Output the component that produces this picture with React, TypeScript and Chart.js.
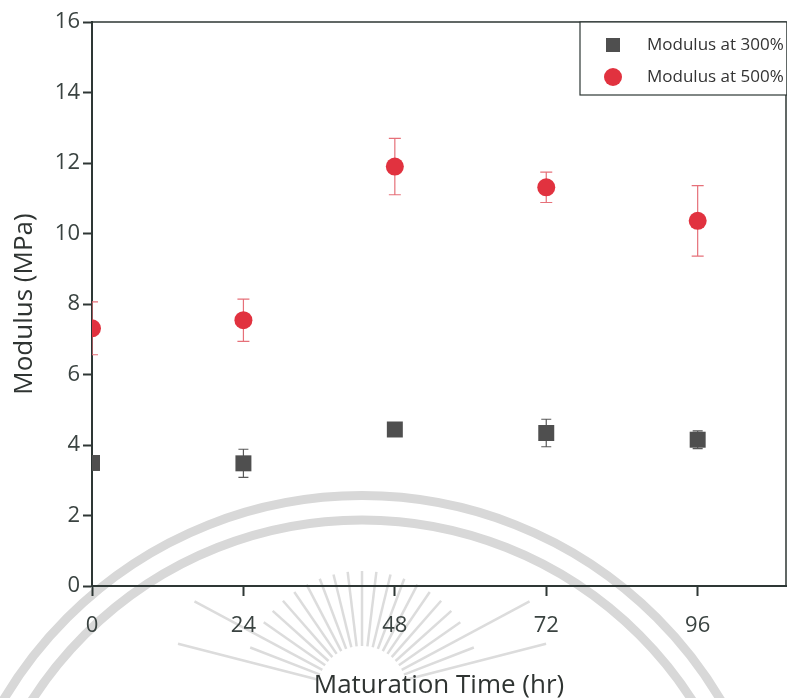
import React, { useEffect, useRef } from "react";
import { Chart, registerables } from "chart.js";

Chart.register(...registerables);

// ---- data ----
const hours = [0, 24, 48, 72, 96];
const xTicks = [0, 24, 48, 72, 96];
const yTicks = [0, 2, 4, 6, 8, 10, 12, 14, 16];
const modulus300 = [3.49, 3.48, 4.44, 4.34, 4.15];
const err300 = [0.1, 0.4, 0.1, 0.39, 0.25];
const modulus500 = [7.31, 7.54, 11.9, 11.31, 10.36];
const err500 = [0.75, 0.6, 0.8, 0.43, 1.0];
const seriesLabels = ["Modulus at 300%", "Modulus at 500%"];
const xTitle = "Maturation Time (hr)";
const yTitle = "Modulus (MPa)";

const FONT = "'Open Sans', 'DejaVu Sans', sans-serif";
const axisColor = "#2e3735";
const tickColor = "#3a4341";
const greyFill = "#4f4f4f";
const redFill = "#e1323f";
const redErr = "#e67079";
const greyErr = "#5a5a5a";

const watermarkPlugin = {
  id: "watermark",
  beforeDraw(chart: any) {
    const { ctx, width, height } = chart;
    ctx.save();
    ctx.fillStyle = "#ffffff";
    ctx.fillRect(0, 0, width, height);
    const cx = width * 0.46;
    const cy = height * 1.307;
    ctx.strokeStyle = "#d8d8d8";
    ctx.lineWidth = 9;
    ctx.beginPath();
    ctx.arc(cx, cy, height * 0.597, Math.PI, 2 * Math.PI);
    ctx.stroke();
    ctx.beginPath();
    ctx.arc(cx, cy, height * 0.562, Math.PI, 2 * Math.PI);
    ctx.stroke();
    // rays of the seal
    const sx = cx;
    const sy = height * 0.99;
    ctx.lineWidth = 2.5;
    ctx.strokeStyle = "#dcdcdc";
    const n = 22;
    for (let i = 0; i <= n; i++) {
      const a = Math.PI + Math.PI * (0.08 + 0.84 * (i / n));
      const long = i === 0 || i === n || i === 2 || i === n - 2;
      const r0 = 45;
      const r1 = long ? 190 : 120;
      ctx.beginPath();
      ctx.moveTo(sx + r0 * Math.cos(a), sy + r0 * Math.sin(a));
      ctx.lineTo(sx + r1 * Math.cos(a), sy + r1 * Math.sin(a));
      ctx.stroke();
    }
    ctx.restore();
  },
};

const framePlugin = {
  id: "frame",
  beforeDatasetsDraw(chart: any) {
    const { ctx, chartArea } = chart;
    ctx.save();
    ctx.strokeStyle = axisColor;
    ctx.lineWidth = 1.5;
    ctx.beginPath();
    ctx.moveTo(chartArea.left, chartArea.top);
    ctx.lineTo(chartArea.right, chartArea.top);
    ctx.lineTo(chartArea.right, chartArea.bottom);
    ctx.stroke();
    ctx.restore();
  },
};

const errorBarPlugin = {
  id: "errorBars",
  beforeDatasetsDraw(chart: any) {
    const { ctx, chartArea, scales } = chart;
    ctx.save();
    ctx.beginPath();
    ctx.rect(chartArea.left, chartArea.top, chartArea.right - chartArea.left, chartArea.bottom - chartArea.top);
    ctx.clip();
    chart.data.datasets.forEach((ds: any) => {
      const errs: number[] = ds.errors || [];
      ctx.strokeStyle = ds.errorColor;
      ctx.lineWidth = 1.2;
      const cap = ds.capHalf;
      ds.data.forEach((p: any, i: number) => {
        const e = errs[i] || 0;
        const x = scales.x.getPixelForValue(p.x);
        const yT = scales.y.getPixelForValue(p.y + e);
        const yB = scales.y.getPixelForValue(p.y - e);
        ctx.beginPath();
        ctx.moveTo(x, yT);
        ctx.lineTo(x, yB);
        ctx.moveTo(x - cap, yT);
        ctx.lineTo(x + cap, yT);
        ctx.moveTo(x - cap, yB);
        ctx.lineTo(x + cap, yB);
        ctx.stroke();
      });
    });
    ctx.restore();
  },
};

const legendPlugin = {
  id: "boxLegend",
  afterDraw(chart: any) {
    const { ctx, chartArea } = chart;
    const w = 206;
    const h = 73;
    const left = chartArea.right - w;
    const top = chartArea.top;
    ctx.save();
    ctx.fillStyle = "#ffffff";
    ctx.fillRect(left, top, w, h);
    ctx.strokeStyle = axisColor;
    ctx.lineWidth = 1.2;
    ctx.strokeRect(left, top, w + 4, h);
    const mx = left + 33;
    const rows = [top + 23, top + 55];
    ctx.fillStyle = greyFill;
    ctx.fillRect(mx - 7, rows[0] - 7, 14, 14);
    ctx.fillStyle = redFill;
    ctx.beginPath();
    ctx.arc(mx, rows[1], 9, 0, Math.PI * 2);
    ctx.fill();
    ctx.fillStyle = "#333333";
    ctx.font = `17px ${FONT}`;
    ctx.textBaseline = "middle";
    ctx.textAlign = "left";
    ctx.fillText(seriesLabels[0], left + 67, rows[0]);
    ctx.fillText(seriesLabels[1], left + 67, rows[1]);
    ctx.restore();
  },
};

export default function App() {
  const ref = useRef<HTMLCanvasElement>(null);
  useEffect(() => {
    document.body.style.margin = "0";
    const chart: any = new Chart(ref.current as HTMLCanvasElement, {
      type: "scatter",
      data: {
        datasets: [
          {
            label: seriesLabels[0],
            data: hours.map((h, i) => ({ x: h, y: modulus300[i] })),
            pointStyle: "rect",
            pointRadius: 11.3,
            pointBackgroundColor: greyFill,
            pointBorderColor: greyFill,
            pointBorderWidth: 0,
            showLine: false,
            errors: err300,
            errorColor: greyErr,
            capHalf: 5,
          } as any,
          {
            label: seriesLabels[1],
            data: hours.map((h, i) => ({ x: h, y: modulus500[i] })),
            pointStyle: "circle",
            pointRadius: 9,
            pointBackgroundColor: redFill,
            pointBorderColor: redFill,
            pointBorderWidth: 0,
            showLine: false,
            errors: err500,
            errorColor: redErr,
            capHalf: 6,
          } as any,
        ],
      },
      options: {
        animation: false,
        responsive: false,
        layout: { autoPadding: false, padding: { top: 22, right: 1, left: 0, bottom: 0 } },
        plugins: { legend: { display: false }, tooltip: { enabled: false } },
        scales: {
          x: {
            type: "linear",
            min: 0,
            max: 110,
            afterBuildTicks: (s: any) => {
              s.ticks = xTicks.map((v) => ({ value: v }));
            },
            afterFit: (s: any) => {
              s.height = 112;
              s.paddingLeft = 0;
              s.paddingRight = 0;
            },
            grid: {
              drawOnChartArea: false,
              drawTicks: true,
              tickLength: 10,
              tickWidth: 2,
              tickColor: axisColor,
            },
            border: { display: true, color: axisColor, width: 2 },
            ticks: {
              font: { family: FONT, size: 22 },
              color: tickColor,
              padding: 17,
              maxRotation: 0,
              autoSkip: false,
            },
            title: {
              display: true,
              text: xTitle,
              font: { family: FONT, size: 26, lineHeight: 1 },
              color: "#2f3432",
              padding: { top: 0, bottom: -1 },
            },
          },
          y: {
            type: "linear",
            min: 0,
            max: 16,
            afterBuildTicks: (s: any) => {
              s.ticks = yTicks.map((v) => ({ value: v }));
            },
            afterFit: (s: any) => {
              s.width = 92;
              s.paddingTop = 0;
              s.paddingBottom = 0;
            },
            grid: {
              drawOnChartArea: false,
              drawTicks: true,
              tickLength: 9,
              tickWidth: 2,
              tickColor: axisColor,
            },
            border: { display: true, color: axisColor, width: 2 },
            ticks: {
              font: { family: FONT, size: 22 },
              color: tickColor,
              padding: 3,
              autoSkip: false,
            },
            title: {
              display: true,
              text: yTitle,
              font: { family: FONT, size: 26, lineHeight: 1 },
              color: "#2f3432",
              padding: { top: 12, bottom: 0 },
            },
          },
        },
      },
      plugins: [watermarkPlugin, framePlugin, errorBarPlugin, legendPlugin],
    } as any);
    return () => chart.destroy();
  }, []);
  return (
    <div style={{ position: "relative", width: 787, height: 698 }}>
      <canvas ref={ref} width={787} height={698} style={{ display: "block" }} />
    </div>
  );
}
